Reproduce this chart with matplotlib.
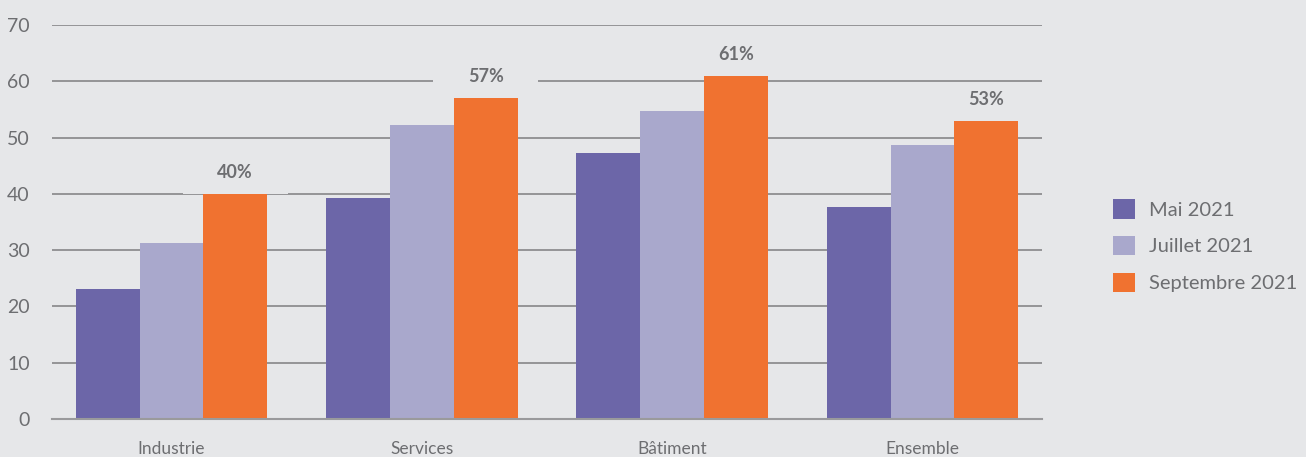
import matplotlib.pyplot as plt
import numpy as np
from matplotlib.patches import Rectangle

plt.rcParams['font.family'] = ['Lato', 'DejaVu Sans']

categories = ['Industrie', 'Services', 'Bâtiment', 'Ensemble']
series_names = ['Mai 2021', 'Juillet 2021', 'Septembre 2021']
mai = [23.1, 39.3, 47.2, 37.7]
juillet = [31.3, 52.2, 54.8, 48.7]
septembre = [40, 57, 61, 53]
sept_labels = ['40%', '57%', '61%', '53%']

colors = ['#6c66a8', '#a9a8cc', '#f07230']
bg = '#e6e7e9'
grey_text = '#6d6e71'

fig = plt.figure(figsize=(13.06, 4.57), dpi=100, facecolor=bg)
ax = fig.add_axes([52 / 1306, 38 / 457, 990 / 1306, 394 / 457], facecolor=bg)

x = np.arange(len(categories))
w = 0.255
for i, (vals, name) in enumerate(zip([mai, juillet, septembre], series_names)):
    ax.bar(x + (i - 1) * w, vals, w, color=colors[i], label=name, zorder=3)

# value labels above the September bars, on a background patch that masks the grid
for xi, v, lab in zip(x, septembre, sept_labels):
    ax.add_patch(Rectangle((xi + w - 0.21, v), 0.42, 5.4, facecolor=bg,
                           edgecolor='none', zorder=2))
    ax.text(xi + w, v + 3.8, lab, ha='center', va='center', fontsize=13,
            fontweight='bold', color=grey_text, zorder=4)

ax.set_ylim(0, 70)
ax.set_xlim(-0.477, 3.477)
ax.set_yticks(range(0, 71, 10))
ax.yaxis.grid(True, color='#8e8e90', linewidth=1.3, zorder=1)
ax.set_axisbelow(True)
for s in ['top', 'right', 'left']:
    ax.spines[s].set_visible(False)
ax.spines['bottom'].set_color('#9a9a9c')
ax.spines['bottom'].set_linewidth(1.5)
ax.spines['bottom'].set_zorder(5)

ax.set_xticks(x)
ax.set_xticklabels(categories)
ax.tick_params(axis='x', length=0, pad=16, labelsize=12.5, colors=grey_text)
ax.tick_params(axis='y', length=0, pad=16, labelsize=14, colors=grey_text)

ax.legend(loc='center left', bbox_to_anchor=(1.053, 0.44), frameon=False,
          fontsize=14.5, labelcolor=grey_text, handlelength=1.1, handleheight=1.1,
          handletextpad=0.72, labelspacing=0.85)

fig.savefig('out.png', dpi=100, facecolor=bg)
